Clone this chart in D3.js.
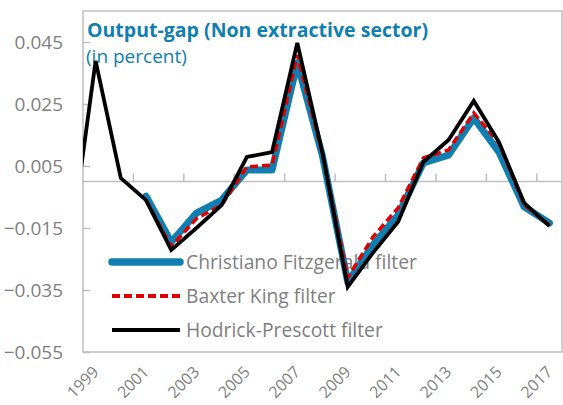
<!DOCTYPE html>
<html>
<head>
<meta charset="utf-8">
<script src="https://cdn.jsdelivr.net/npm/d3@7"></script>
<style>
  body { margin: 0; background: #fff; }
  svg { display: block; font-family: 'Open Sans', sans-serif; }
</style>
</head>
<body>
<svg id="chart" width="563" height="405"></svg>
<script>
// years shown (1998 sits outside the plot and is clipped)
const years = d3.range(1998, 2018);
const yTicks = [-0.055, -0.035, -0.015, 0.005, 0.025, 0.045];
const xTickLabels = [1999, 2001, 2003, 2005, 2007, 2009, 2011, 2013, 2015, 2017];

const hpValues = [-0.021, 0.0389, 0.0011, -0.006, -0.0221, -0.015, -0.0076, 0.0079, 0.0095, 0.0447,
  0.0092, -0.034, -0.023, -0.013, 0.0063, 0.0134, 0.026, 0.0127, -0.0069, -0.0144];
const cfValues = [null, null, null, -0.0047, -0.0195, -0.0102, -0.006, 0.0037, 0.0037, 0.0382,
  0.0082, -0.0324, -0.0205, -0.0108, 0.006, 0.0085, 0.0205, 0.0095, -0.0082, -0.0134];
const bkValues = [null, null, null, -0.006, -0.021, -0.012, -0.0076, 0.0047, 0.0053, 0.0408,
  0.0088, -0.031, -0.0179, -0.0085, 0.0076, 0.0102, 0.0221, 0.0124, -0.0076, -0.014];

const seriesNames = ['Christiano Fitzgerald filter', 'Baxter King filter', 'Hodrick-Prescott filter'];

const margin = { top: 11, right: 1, bottom: 53, left: 83 };
const width = 563;
const height = 405;
const blue = '#0e7fb0';
const red = '#e00000';
const grey = '#7f7f7f';
const axisGrey = '#bfbfbf';

const svg = d3.select('#chart');

const x = d3.scaleLinear()
  .domain([1998.5, 2017.5])
  .range([margin.left, width - margin.right]);

const y = d3.scaleLinear()
  .domain([-0.055, 0.055])
  .range([height - margin.bottom, margin.top]);

svg.append('defs').append('clipPath')
  .attr('id', 'plot-clip')
  .append('rect')
  .attr('x', margin.left)
  .attr('y', margin.top)
  .attr('width', width - margin.right - margin.left)
  .attr('height', height - margin.bottom - margin.top);

// plot frame
svg.append('rect')
  .attr('x', margin.left)
  .attr('y', margin.top)
  .attr('width', width - margin.right - margin.left)
  .attr('height', height - margin.bottom - margin.top)
  .attr('fill', 'none')
  .attr('stroke', axisGrey)
  .attr('stroke-width', 1.5);

// y axis: ticks pointing inward
const yAxis = svg.append('g')
  .attr('transform', `translate(${margin.left},0)`)
  .call(d3.axisRight(y).tickValues(yTicks).tickSize(7).tickFormat(''));
yAxis.select('.domain').remove();
yAxis.selectAll('line').attr('stroke', axisGrey).attr('stroke-width', 1.5);

svg.append('g')
  .selectAll('text')
  .data(yTicks)
  .enter().append('text')
  .attr('x', 63)
  .attr('y', d => y(d))
  .attr('dy', '0.35em')
  .attr('text-anchor', 'end')
  .attr('fill', grey)
  .style('font-size', '19px')
  .text(d => d3.format('.3f')(d));

// horizontal axis at zero, ticks between category pairs
svg.append('line')
  .attr('x1', margin.left)
  .attr('x2', width - margin.right)
  .attr('y1', y(0))
  .attr('y2', y(0))
  .attr('stroke', axisGrey)
  .attr('stroke-width', 1.5);

const xTickPos = d3.range(2000.5, 2017, 2);
svg.append('g')
  .selectAll('line')
  .data(xTickPos)
  .enter().append('line')
  .attr('x1', d => x(d))
  .attr('x2', d => x(d))
  .attr('y1', y(0))
  .attr('y2', y(0) - 8)
  .attr('stroke', axisGrey)
  .attr('stroke-width', 1.5);

svg.append('g')
  .selectAll('text')
  .data(xTickLabels)
  .enter().append('text')
  .attr('text-anchor', 'end')
  .attr('transform', d => `translate(${x(d) + 4},${height - margin.bottom + 21}) rotate(-45)`)
  .attr('fill', grey)
  .style('font-size', '16px')
  .text(d => d);

// title
svg.append('text')
  .attr('x', 87)
  .attr('y', 37)
  .attr('fill', blue)
  .style('font-size', '19.5px')
  .style('font-weight', 'bold')
  .attr('textLength', 341)
  .text('Output-gap (Non extractive sector)');

svg.append('text')
  .attr('x', 86)
  .attr('y', 63)
  .attr('fill', blue)
  .style('font-size', '19px')
  .text('(in percent)');

// legend (lines are drawn over it)
const legendStyles = [
  { color: blue, width: 7.5, dash: null, cap: 'round' },
  { color: red, width: 4, dash: '8,4', cap: 'butt' },
  { color: '#000', width: 4, dash: null, cap: 'butt' },
];
const legend = svg.append('g')
  .attr('class', 'legend')
  .attr('transform', 'translate(112, 262)');

const legendItems = legend.selectAll('.legend-item')
  .data(seriesNames)
  .enter().append('g')
  .attr('class', 'legend-item')
  .attr('transform', (d, i) => `translate(0, ${i * 34})`);

legendItems.append('line')
  .attr('x1', 0)
  .attr('x2', 68)
  .attr('stroke', (d, i) => legendStyles[i].color)
  .attr('stroke-width', (d, i) => legendStyles[i].width)
  .attr('stroke-dasharray', (d, i) => legendStyles[i].dash)
  .attr('stroke-linecap', (d, i) => legendStyles[i].cap);

legendItems.append('text')
  .attr('x', 74)
  .attr('dy', '0.35em')
  .attr('fill', grey)
  .style('font-size', '19.3px')
  .text(d => d);

// series
const line = d3.line()
  .defined(d => d.value != null)
  .x(d => x(d.year))
  .y(d => y(d.value));

const series = [
  { values: cfValues, style: legendStyles[0], width: 7 },
  { values: bkValues, style: legendStyles[1], width: 3.5 },
  { values: hpValues, style: legendStyles[2], width: 3.8 },
];

svg.append('g')
  .attr('clip-path', 'url(#plot-clip)')
  .selectAll('path')
  .data(series)
  .enter().append('path')
  .attr('d', s => line(years.map((yr, i) => ({ year: yr, value: s.values[i] }))))
  .attr('fill', 'none')
  .attr('stroke', s => s.style.color)
  .attr('stroke-width', s => s.width)
  .attr('stroke-dasharray', s => s.style.dash)
  .attr('stroke-linejoin', s => s.style.cap === 'round' ? 'round' : 'miter')
  .attr('stroke-linecap', s => s.style.cap);
</script>
</body>
</html>
